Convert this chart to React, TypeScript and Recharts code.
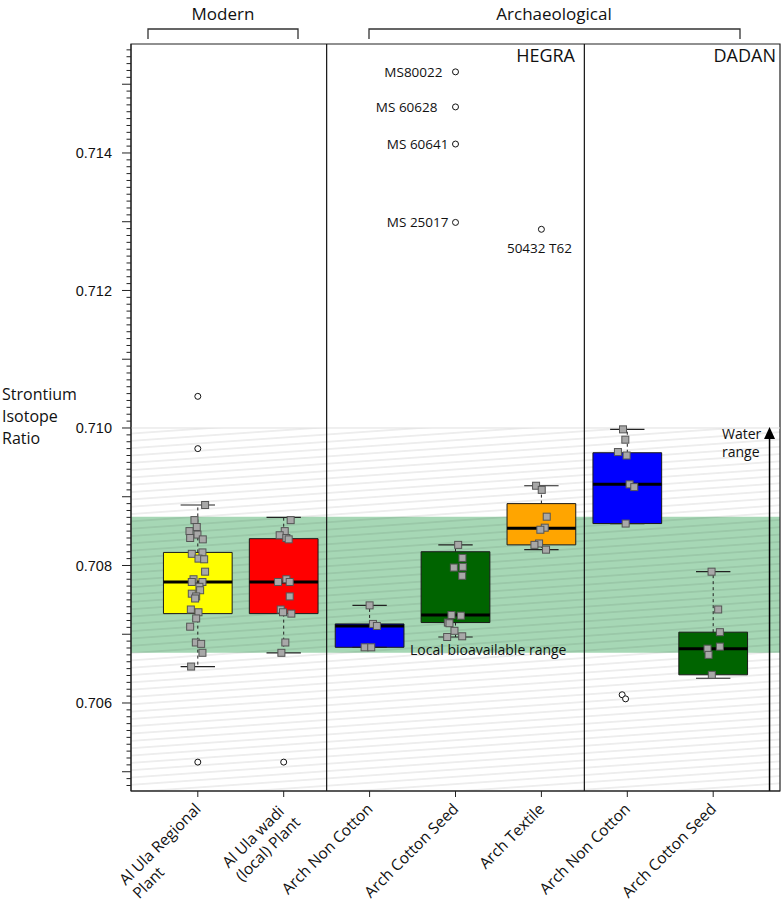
import React from "react";
import {
  ComposedChart,
  XAxis,
  YAxis,
  Scatter,
  ReferenceArea,
  ReferenceLine,
} from "recharts";

// categories along the x axis (1..7)
const categories = [
  "Al Ula Regional\nPlant",
  "Al Ula wadi\n(local) Plant",
  "Arch Non Cotton",
  "Arch Cotton Seed",
  "Arch Textile",
  "Arch Non Cotton",
  "Arch Cotton Seed",
];
const boxColors = ["#ffff00", "#ff0000", "#0000ff", "#006400", "#ffa500", "#0000ff", "#006400"];

// box statistics
const whiskerLow = [0.70653, 0.70673, 0.70681, 0.70696, 0.70823, 0.70861, 0.70636];
const q1 = [0.7073, 0.7073, 0.70681, 0.70717, 0.7083, 0.70861, 0.70641];
const median = [0.70776, 0.70776, 0.70712, 0.70728, 0.70854, 0.70918, 0.70679];
const q3 = [0.70819, 0.70839, 0.70715, 0.7082, 0.7089, 0.70964, 0.70703];
const whiskerHigh = [0.70888, 0.7087, 0.70742, 0.7083, 0.70916, 0.70998, 0.70791];

// individual samples (value, horizontal jitter)
const regionalPlant = [
  0.70888, 0.70866, 0.70856, 0.7085, 0.70845, 0.7084, 0.70838, 0.70817, 0.70819, 0.7081,
  0.70809, 0.70791, 0.7078, 0.70776, 0.70776, 0.70769, 0.70764, 0.70759, 0.70755, 0.70752,
  0.70736, 0.70732, 0.70723, 0.70711, 0.70688, 0.70686, 0.70673, 0.70653,
];
const regionalJitter = [
  0.085, -0.039, -0.012, -0.097, -0.004, -0.089, 0.058, -0.07, 0.054, 0.008,
  0.074, 0.085, -0.05, -0.07, 0.054, 0.019, 0.027, -0.07, -0.019, -0.031,
  -0.081, 0.008, -0.019, -0.089, -0.023, 0.039, 0.054, -0.078,
];
const wadiPlant = [
  0.70866, 0.7085, 0.70844, 0.7084, 0.70838, 0.7078, 0.70776, 0.70776, 0.70755, 0.70736,
  0.70732, 0.7073, 0.70688, 0.70673,
];
const wadiJitter = [0.081, 0.012, -0.047, 0.031, 0.058, 0.031, -0.066, 0.07, 0.07, -0.035, -0.008, 0.089, 0.019, -0.027];
const hegraNonCotton = [0.70742, 0.70715, 0.70712, 0.70681, 0.70681];
const hegraNonCottonJitter = [0, 0.039, 0.085, -0.058, 0.019];
const hegraCottonSeed = [
  0.7083, 0.70811, 0.70797, 0.70798, 0.70785, 0.70728, 0.70727, 0.70717, 0.70716, 0.70705,
  0.70696, 0.70697,
];
const hegraCottonSeedJitter = [0.031, 0.081, -0.019, 0.085, 0.078, -0.047, 0.062, -0.089, -0.07, -0.012, -0.097, 0.078];
const hegraTextile = [0.70916, 0.7091, 0.70871, 0.70855, 0.70852, 0.70832, 0.7083, 0.70823];
const hegraTextileJitter = [-0.062, 0.004, 0.062, 0.039, -0.012, -0.027, -0.081, 0.054];
const dadanNonCotton = [0.70998, 0.70983, 0.70965, 0.7096, 0.70918, 0.70914, 0.70861];
const dadanNonCottonJitter = [-0.05, -0.023, -0.109, -0.008, 0.027, 0.081, -0.019];
const dadanCottonSeed = [0.70791, 0.70736, 0.70703, 0.70682, 0.70679, 0.7067, 0.70641];
const dadanCottonSeedJitter = [-0.019, 0.058, 0.078, 0.078, -0.066, -0.054, -0.016];

const sampleGroups = [
  [regionalPlant, regionalJitter],
  [wadiPlant, wadiJitter],
  [hegraNonCotton, hegraNonCottonJitter],
  [hegraCottonSeed, hegraCottonSeedJitter],
  [hegraTextile, hegraTextileJitter],
  [dadanNonCotton, dadanNonCottonJitter],
  [dadanCottonSeed, dadanCottonSeedJitter],
];

// outliers
const outlierCategory = [1, 1, 1, 2, 4, 4, 4, 4, 5, 6, 6];
const outlierValue = [0.71046, 0.7097, 0.70514, 0.70514, 0.71518, 0.71467, 0.71413, 0.71299, 0.71289, 0.70612, 0.70606];
const outlierJitter = [0, 0, 0, 0, 0, 0, 0, 0, 0, -0.06, -0.02];
const outlierLabel = ["", "", "", "", "MS80022", "MS 60628", "MS 60641", "MS 25017", "50432 T62", "", ""];

// reference ranges
const localRange = [0.70673, 0.70871];
const waterRangeTop = 0.71;

// axes
const yDomain = [0.70472, 0.715585];
const xDomain = [0.2223, 7.7777];
const yLabelTicks = [0.706, 0.708, 0.71, 0.712, 0.714];
const yMinorTicks: number[] = [];
for (let k = 7048; k <= 7155; k++) yMinorTicks.push(k / 10000);
const xTicks = [1, 2, 3, 4, 5, 6, 7];
const sectionBreaks = [2.5, 5.5];

const labelPlacement: Record<string, { dx: number; dy: number; anchor: "end" | "middle" }> = {
  MS80022: { dx: -13, dy: 5, anchor: "end" },
  "MS 60628": { dx: -18, dy: 5, anchor: "end" },
  "MS 60641": { dx: -7, dy: 5, anchor: "end" },
  "MS 25017": { dx: -7, dy: 5, anchor: "end" },
  "50432 T62": { dx: -2, dy: 24, anchor: "middle" },
};

const SANS = "'Open Sans', 'Noto Sans', sans-serif";

const samples = sampleGroups.flatMap(([vals, jit], i) =>
  vals.map((v, j) => ({ x: i + 1 + jit[j], y: v }))
);
const outliers = outlierValue.map((v, i) => ({
  x: outlierCategory[i] + outlierJitter[i],
  y: v,
  label: outlierLabel[i],
}));

let measureCtx: CanvasRenderingContext2D | null = null;
function textWidth(s: string, font: string) {
  if (!measureCtx) measureCtx = document.createElement("canvas").getContext("2d");
  if (!measureCtx) return s.length * 8;
  measureCtx.font = font;
  return measureCtx.measureText(s).width;
}

function YTick({ x, y, payload }: any) {
  const k = Math.round(payload.value * 10000);
  const len = k % 10 === 0 ? 9 : 4.5;
  const hasLabel = yLabelTicks.some((t) => Math.abs(t - payload.value) < 1e-7);
  return (
    <g>
      <line x1={x - len} x2={x} y1={y} y2={y} stroke="#222" strokeWidth={1} />
      {hasLabel && (
        <text
          x={x - 19}
          y={y}
          dy="0.36em"
          textAnchor="end"
          fontFamily="'Liberation Sans', Arial, sans-serif"
          fontSize={14.5}
          fill="#111"
        >
          {payload.value.toFixed(3)}
        </text>
      )}
    </g>
  );
}

function XTick({ x, y, payload }: any) {
  const lines = categories[Math.round(payload.value) - 1].split("\n");
  const font = `15.5px 'Open Sans'`;
  const w = Math.max(...lines.map((l) => textWidth(l, font)));
  return (
    <g transform={`translate(${x + 4},${y + 13}) rotate(-45)`}>
      {lines.map((l, i) => (
        <text key={i} x={-w} y={i * 19} textAnchor="start" fontFamily={SANS} fontSize={15.5} fill="#111">
          {l}
        </text>
      ))}
    </g>
  );
}

function SampleSquare({ cx, cy }: any) {
  return <rect x={cx - 3.5} y={cy - 3.5} width={7} height={7} fill="#a8a8a8" stroke="#555" strokeWidth={1} />;
}

function OutlierCircle({ cx, cy, payload }: any) {
  const p = payload.label ? labelPlacement[payload.label] : null;
  return (
    <g>
      <circle cx={cx} cy={cy} r={3} fill="#fff" stroke="#111" strokeWidth={1} />
      {p && (
        <text x={cx + p.dx} y={cy + p.dy} textAnchor={p.anchor} fontFamily={SANS} fontSize={13.5} fill="#111">
          {payload.label}
        </text>
      )}
    </g>
  );
}

function WaterArrow({ x1, y1, x2, y2 }: any) {
  const top = Math.min(y1, y2);
  const bottom = Math.max(y1, y2);
  return (
    <g>
      <line x1={x1} x2={x2} y1={bottom} y2={top + 8} stroke="#000" strokeWidth={1.5} />
      <polygon points={`${x1 - 5.5},${top + 11} ${x1 + 5.5},${top + 11} ${x1},${top - 1}`} fill="#000" />
    </g>
  );
}

export default function App() {
  return (
    <div style={{ position: "absolute", left: 0, top: 0, width: 782, height: 913, background: "#fff" }}>
      <svg width={0} height={0} style={{ position: "absolute" }}>
        <defs>
          <pattern id="hatch" patternUnits="userSpaceOnUse" width={60} height={7.3} patternTransform="rotate(-4)">
            <line x1={0} y1={3.6} x2={60} y2={3.6} stroke="rgba(0,0,0,0.14)" strokeWidth={1} />
          </pattern>
        </defs>
      </svg>
      <ComposedChart width={782} height={913} margin={{ top: 44, right: 2, bottom: 0, left: 71 }}>
        <XAxis
          dataKey="x"
          type="number"
          domain={xDomain}
          ticks={xTicks}
          interval={0}
          allowDataOverflow
          height={122}
          tickSize={6}
          tickMargin={0}
          tick={<XTick />}
          axisLine={{ stroke: "#222" }}
          tickLine={{ stroke: "#222" }}
        />
        <YAxis
          dataKey="y"
          type="number"
          domain={yDomain}
          ticks={yMinorTicks}
          interval={0}
          allowDataOverflow
          width={60}
          tickSize={0}
          tickMargin={0}
          tickLine={false}
          tick={<YTick />}
          axisLine={{ stroke: "#222" }}
        />

        <ReferenceArea y1={localRange[0]} y2={localRange[1]} fill="#a6d7b5" fillOpacity={1} stroke="none" />
        <ReferenceArea y1={yDomain[0]} y2={waterRangeTop} fill="url(#hatch)" fillOpacity={1} stroke="none" />
        <ReferenceLine y={waterRangeTop} stroke="#e0e0e0" strokeWidth={1} />

        {categories.map((_, i) => (
          <ReferenceArea
            key={`box${i}`}
            x1={i + 1 - 0.4}
            x2={i + 1 + 0.4}
            y1={q1[i]}
            y2={q3[i]}
            fill={boxColors[i]}
            fillOpacity={1}
            stroke="#1a1a1a"
            strokeWidth={1}
          />
        ))}
        {categories.map((_, i) => (
          <ReferenceLine
            key={`med${i}`}
            segment={[{ x: i + 1 - 0.4, y: median[i] }, { x: i + 1 + 0.4, y: median[i] }]}
            stroke="#000"
            strokeWidth={3}
          />
        ))}
        {categories.map((_, i) =>
          whiskerHigh[i] > q3[i] ? (
            <ReferenceLine
              key={`wh${i}`}
              segment={[{ x: i + 1, y: q3[i] }, { x: i + 1, y: whiskerHigh[i] }]}
              stroke="#222"
              strokeDasharray="3 3"
            />
          ) : null
        )}
        {categories.map((_, i) =>
          whiskerLow[i] < q1[i] ? (
            <ReferenceLine
              key={`wl${i}`}
              segment={[{ x: i + 1, y: q1[i] }, { x: i + 1, y: whiskerLow[i] }]}
              stroke="#222"
              strokeDasharray="3 3"
            />
          ) : null
        )}
        {categories.map((_, i) => (
          <ReferenceLine
            key={`ch${i}`}
            segment={[{ x: i + 1 - 0.2, y: whiskerHigh[i] }, { x: i + 1 + 0.2, y: whiskerHigh[i] }]}
            stroke="#222"
            strokeWidth={1.2}
          />
        ))}
        {categories.map((_, i) => (
          <ReferenceLine
            key={`cl${i}`}
            segment={[{ x: i + 1 - 0.2, y: whiskerLow[i] }, { x: i + 1 + 0.2, y: whiskerLow[i] }]}
            stroke="#222"
            strokeWidth={1.2}
          />
        ))}
        {sectionBreaks.map((b) => (
          <ReferenceLine key={`sec${b}`} x={b} stroke="#111" strokeWidth={1.2} />
        ))}
        <ReferenceLine
          segment={[{ x: 7.656, y: yDomain[0] }, { x: 7.656, y: waterRangeTop }]}
          shape={<WaterArrow />}
        />
        <ReferenceArea
          x1={xDomain[0]}
          x2={xDomain[1]}
          y1={yDomain[0]}
          y2={yDomain[1]}
          fill="none"
          fillOpacity={0}
          stroke="#222"
          strokeWidth={1.2}
        />

        <Scatter data={samples} dataKey="y" shape={<SampleSquare />} isAnimationActive={false} />
        <Scatter data={outliers} dataKey="y" shape={<OutlierCircle />} isAnimationActive={false} />
      </ComposedChart>

      <svg
        width={782}
        height={913}
        style={{ position: "absolute", left: 0, top: 0, pointerEvents: "none" }}
        fontFamily={SANS}
        fill="#111"
      >
        <text x={223} y={20} textAnchor="middle" fontSize={17}>Modern</text>
        <path d="M148,39 V29 H298 V39" fill="none" stroke="#333" strokeWidth={1.3} />
        <text x={554} y={20} textAnchor="middle" fontSize={17}>Archaeological</text>
        <path d="M369,39 V29 H740 V39" fill="none" stroke="#333" strokeWidth={1.3} />
        <text x={575} y={62} textAnchor="end" fontSize={18}>HEGRA</text>
        <text x={776} y={62} textAnchor="end" fontSize={18}>DADAN</text>
        <text x={2} fontSize={16}>
          <tspan x={2} y={400}>Strontium</tspan>
          <tspan x={2} y={422}>Isotope</tspan>
          <tspan x={2} y={444}>Ratio</tspan>
        </text>
        <text x={410} y={655} fontSize={14}>Local bioavailable range</text>
        <text fontSize={14}>
          <tspan x={722} y={439}>Water</tspan>
          <tspan x={722} y={457}>range</tspan>
        </text>
      </svg>
    </div>
  );
}
